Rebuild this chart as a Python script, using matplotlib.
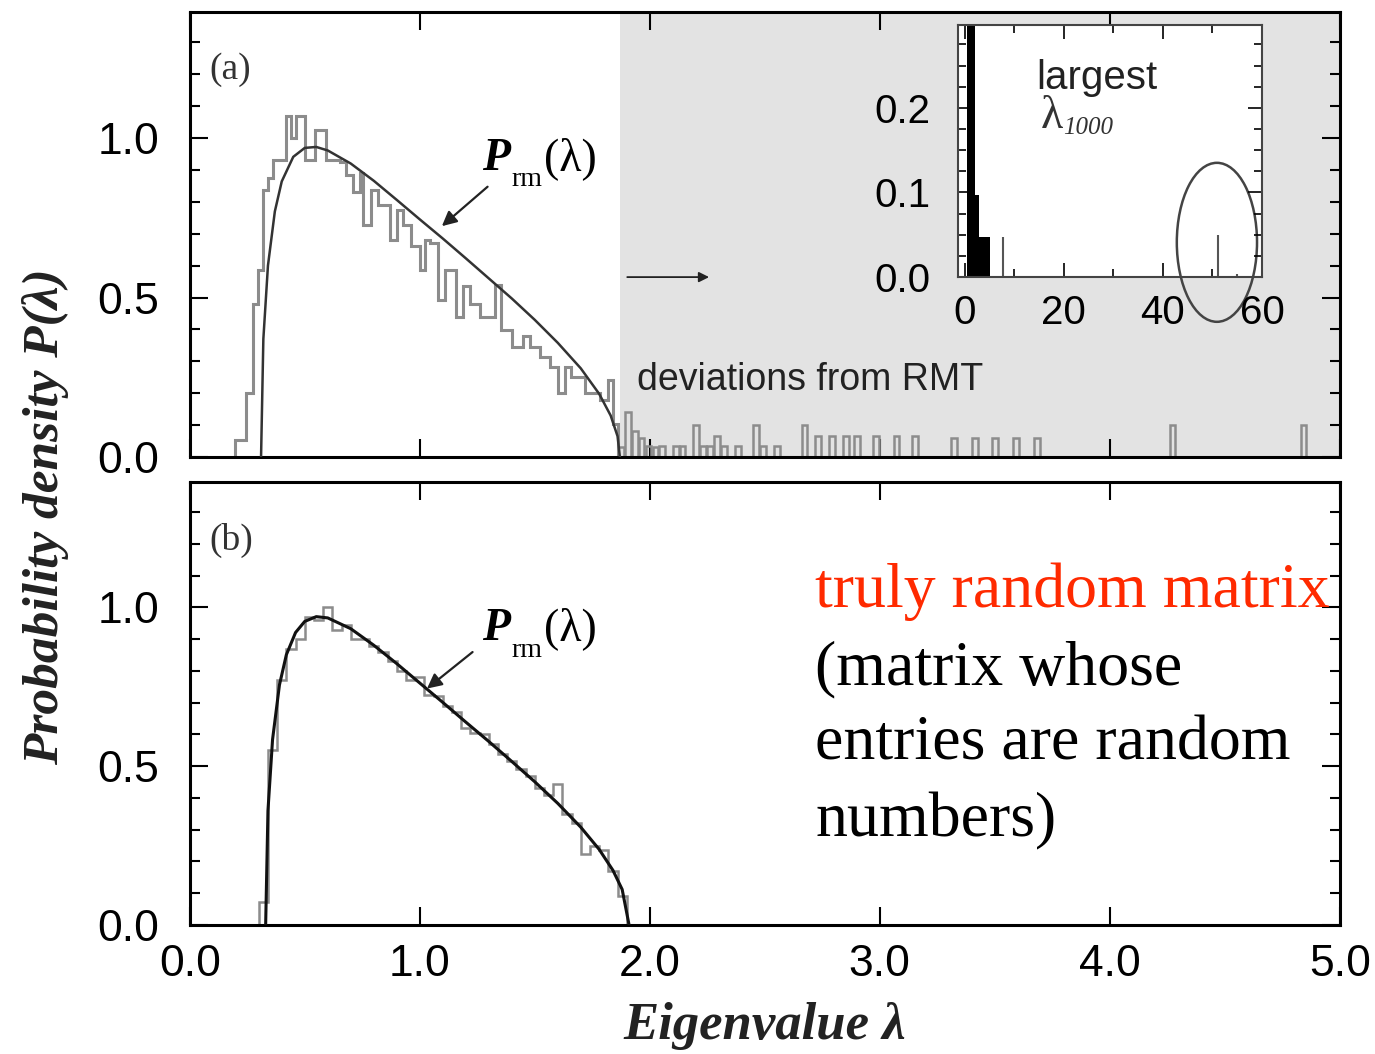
import matplotlib
matplotlib.use('Agg')
import matplotlib.pyplot as plt
from matplotlib.patches import Ellipse
from matplotlib.ticker import MultipleLocator, FormatStrFormatter
import numpy as np

top_edges = [0.196, 0.246, 0.275, 0.297, 0.319, 0.341, 0.362, 0.420, 0.442, 0.464,
             0.500, 0.543, 0.594, 0.652, 0.681, 0.710, 0.739, 0.754, 0.790, 0.819,
             0.870, 0.899, 0.928, 0.964, 1.000, 1.022, 1.043, 1.080, 1.109, 1.159,
             1.188, 1.217, 1.261, 1.326, 1.355, 1.399, 1.449, 1.478, 1.522, 1.565,
             1.601, 1.630, 1.659, 1.717, 1.783, 1.819, 1.841, 1.862]
top_vals = [0.053, 0.20, 0.48, 0.586, 0.837, 0.875, 0.93, 1.07, 1.00, 1.07,
            0.93, 1.025, 0.93, 0.925, 0.884, 0.83, 0.89, 0.727, 0.837, 0.79,
            0.68, 0.775, 0.727, 0.66, 0.586, 0.68, 0.67, 0.492, 0.586, 0.44,
            0.535, 0.48, 0.44, 0.54, 0.398, 0.345, 0.38, 0.345, 0.314, 0.283,
            0.20, 0.283, 0.25, 0.20, 0.18, 0.24, 0.105]

# tail of (a): isolated bins beyond the RMT edge
tail_width = 0.025
tail_left = [1.862, 1.892, 1.922, 1.952, 1.982, 2.012, 2.042, 2.10, 2.13, 2.19,
             2.22, 2.25, 2.28, 2.31, 2.37, 2.45, 2.48, 2.54, 2.66, 2.72, 2.78,
             2.84, 2.89, 2.97, 3.06, 3.14, 3.31, 3.40, 3.49, 3.58, 3.67, 4.26, 4.83]
tail_height = [0.03, 0.14, 0.08, 0.06, 0.035, 0.03, 0.035, 0.033, 0.033, 0.10,
               0.033, 0.033, 0.067, 0.033, 0.033, 0.10, 0.033, 0.033, 0.10, 0.067,
               0.067, 0.067, 0.067, 0.067, 0.067, 0.067, 0.06, 0.06, 0.06, 0.06,
               0.06, 0.10, 0.10]

# (a) theoretical curve P_rm
top_curve_x = [0.31, 0.32, 0.34, 0.37, 0.40, 0.45, 0.50, 0.55, 0.60, 0.70, 0.80,
               0.90, 1.00, 1.10, 1.20, 1.30, 1.40, 1.50, 1.60, 1.70, 1.78, 1.83,
               1.86, 1.87]
top_curve_y = [0.0, 0.37, 0.60, 0.77, 0.864, 0.941, 0.969, 0.972, 0.961, 0.92,
               0.866, 0.806, 0.745, 0.685, 0.623, 0.56, 0.497, 0.43, 0.358, 0.278,
               0.198, 0.13, 0.065, 0.0]

# (b) histogram of a random matrix
bot_edges = np.round(np.arange(0.30, 1.901, 0.04), 2)
bot_vals = [0.073, 0.55, 0.77, 0.87, 0.90, 0.97, 0.96, 1.00, 0.93, 0.945,
            0.90, 0.90, 0.88, 0.86, 0.83, 0.80, 0.77, 0.78, 0.725, 0.72,
            0.69, 0.67, 0.62, 0.605, 0.60, 0.57, 0.54, 0.515, 0.49, 0.47,
            0.43, 0.41, 0.445, 0.35, 0.32, 0.225, 0.25, 0.235, 0.17, 0.09]

bot_curve_x = [0.33, 0.34, 0.36, 0.39, 0.42, 0.46, 0.50, 0.55, 0.60, 0.70, 0.80,
               0.90, 1.00, 1.10, 1.20, 1.30, 1.40, 1.50, 1.60, 1.70, 1.78, 1.84,
               1.88, 1.91]
bot_curve_y = [0.0, 0.36, 0.584, 0.756, 0.851, 0.921, 0.956, 0.971, 0.967, 0.933,
               0.881, 0.823, 0.762, 0.701, 0.639, 0.578, 0.515, 0.451, 0.383, 0.308,
               0.238, 0.172, 0.112, 0.0]

# inset: full spectrum up to the largest eigenvalue
inset_edges = [0.4, 2.0, 2.9, 5.0]
inset_vals = [0.45, 0.097, 0.047]
inset_lines_x = [7.7, 51.1, 55.0]
inset_lines_h = [0.047, 0.05, 0.004]

SANS = 'Liberation Sans'
SERIF = 'Liberation Serif'
plt.rcParams['font.family'] = SANS

fig = plt.figure(figsize=(13.75, 10.54), dpi=100)
ax1 = fig.add_axes([0.138, 0.5664, 0.8364, 0.4222])
ax2 = fig.add_axes([0.138, 0.1224, 0.8364, 0.4203])

for ax in (ax1, ax2):
    ax.set_xlim(0, 5)
    ax.set_ylim(0, 1.395)
    ax.xaxis.set_major_locator(MultipleLocator(1))
    ax.yaxis.set_major_locator(MultipleLocator(0.5))
    ax.yaxis.set_minor_locator(MultipleLocator(0.1))
    ax.xaxis.set_major_formatter(FormatStrFormatter('%.1f'))
    ax.yaxis.set_major_formatter(FormatStrFormatter('%.1f'))
    ax.tick_params(which='both', direction='in', top=True, right=True, width=1.5)
    ax.tick_params(which='major', length=13)
    ax.tick_params(which='minor', length=7)
    ax.tick_params(axis='y', labelsize=32, pad=22)
    ax.tick_params(axis='x', labelsize=32, pad=14)
    for s in ax.spines.values():
        s.set_linewidth(2.2)
ax1.tick_params(axis='x', labelbottom=False)


def prm_label(ax, x, y):
    t = ax.text(x, y, 'P', family=SERIF, fontweight='bold', fontstyle='italic',
                fontsize=33, va='baseline')
    s = ax.annotate('rm', xy=(1, 0), xycoords=t, xytext=(1, -9),
                    textcoords='offset points', family=SERIF, fontsize=20, va='bottom')
    ax.annotate('(λ)', xy=(1, 0), xycoords=(s, t), xytext=(1, 0),
                textcoords='offset points', family=SERIF, fontsize=33, va='bottom')


# ---- panel (a)
ax1.axvspan(1.87, 5, color='#e3e3e3', zorder=0, lw=0)
ax1.stairs(top_vals, top_edges, color='#8c8c8c', lw=2.2, zorder=2)
for l, h in zip(tail_left, tail_height):
    ax1.stairs([h], [l, l + tail_width], color='#8c8c8c', lw=1.8, zorder=2)
ax1.plot(top_curve_x, top_curve_y, color='#333333', lw=1.8, zorder=3)
prm_label(ax1, 1.27, 0.90)
ax1.annotate('', xy=(1.087, 0.718), xytext=(1.304, 0.853),
             arrowprops=dict(arrowstyle='-|>', color='#222222', lw=1.6, mutation_scale=22))
ax1.annotate('', xy=(2.27, 0.564), xytext=(1.89, 0.564),
             arrowprops=dict(arrowstyle='-|>', color='#222222', lw=1.3, mutation_scale=15))
ax1.text(1.943, 0.241, 'deviations from RMT', fontsize=27, va='center', color='#222222')
ax1.text(0.087, 1.213, '(a)', family=SERIF, fontsize=27, va='center', color='#333333')

# ---- inset
axin = fig.add_axes([0.6967, 0.7372, 0.2211, 0.2391])
axin.set_xlim(-1.4, 60)
axin.set_ylim(0, 0.298)
axin.stairs(inset_vals, inset_edges, fill=True, color='black')
axin.vlines(inset_lines_x, 0, inset_lines_h, colors='#555555', lw=1.5)
axin.xaxis.set_major_locator(MultipleLocator(20))
axin.xaxis.set_minor_locator(MultipleLocator(10))
axin.yaxis.set_major_locator(MultipleLocator(0.1))
axin.yaxis.set_minor_locator(MultipleLocator(0.025))
axin.yaxis.set_major_formatter(FormatStrFormatter('%.1f'))
axin.tick_params(which='both', direction='in', top=True, right=True, width=1.2)
axin.tick_params(which='major', length=10)
axin.tick_params(which='minor', length=6)
axin.tick_params(axis='y', labelsize=29, pad=20)
axin.tick_params(axis='x', labelsize=29, pad=12)
for s in axin.spines.values():
    s.set_linewidth(1.5)
    s.set_color('#444444')
axin.add_patch(Ellipse((50.9, 0.041), 16.2, 0.188, fill=False, ec='#444444',
                       lw=1.8, clip_on=False))
axin.text(14.5, 0.235, 'largest', fontsize=29, va='center', color='#222222')
lam = axin.text(15.3, 0.19, 'λ', family=SERIF, fontsize=33, va='center', color='#333333')
axin.annotate('1000', xy=(1, 0), xycoords=lam, xytext=(0, -1), textcoords='offset points',
              family=SERIF, fontstyle='italic', fontsize=18, va='bottom', color='#333333')

# ---- panel (b)
ax2.stairs(bot_vals, bot_edges, color='#8c8c8c', lw=1.8, zorder=2)
ax2.plot(bot_curve_x, bot_curve_y, color='#111111', lw=2.2, zorder=3)
prm_label(ax2, 1.27, 0.896)
ax2.annotate('', xy=(1.022, 0.739), xytext=(1.239, 0.865),
             arrowprops=dict(arrowstyle='-|>', color='#222222', lw=1.6, mutation_scale=22))
ax2.text(0.087, 1.21, '(b)', family=SERIF, fontsize=27, va='center', color='#333333')

fig.text(0.593, 1 - 607 / 1054, 'truly random matrix', family=SERIF, fontsize=46,
         color='#ff2a00', va='baseline')
note_lines = ['(matrix whose', 'entries are random', 'numbers)']
for i, line in enumerate(note_lines):
    fig.text(0.593, 1 - (684 + 76 * i) / 1054, line, family=SERIF, fontsize=46,
             color='black', va='baseline')

fig.text(0.033, 0.51, 'Probability density P(λ)', family=SERIF, fontweight='bold',
         fontstyle='italic', fontsize=37, rotation=90, ha='center', va='center',
         color='#222222')
fig.text(0.556, 0.027, 'Eigenvalue λ', family=SERIF, fontweight='bold',
         fontstyle='italic', fontsize=38, ha='center', va='center', color='#222222')

fig.savefig('out.png', dpi=100)
